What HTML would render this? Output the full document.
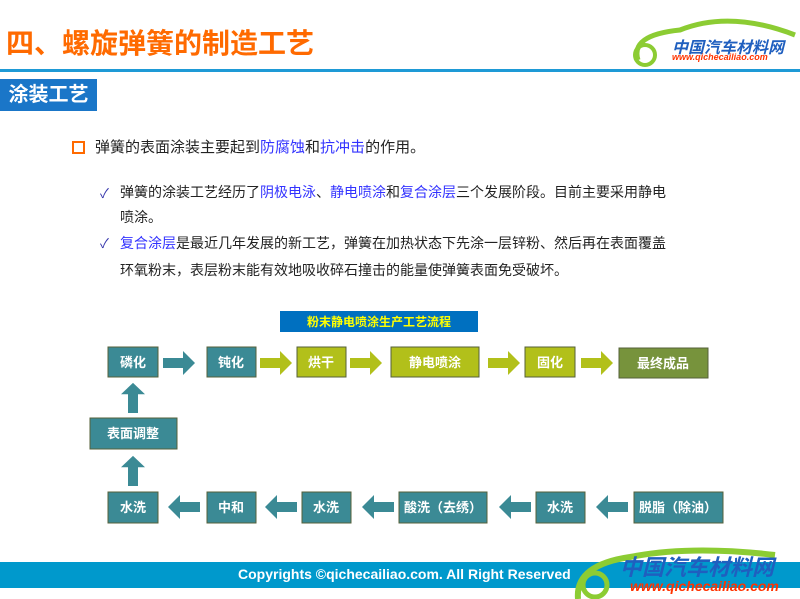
<!DOCTYPE html>
<html><head><meta charset="utf-8"><style>
body{margin:0;width:800px;height:599px;position:relative;background:#fff;font-family:"Liberation Sans","Noto Sans CJK SC",sans-serif;overflow:hidden}
.a{position:absolute;white-space:nowrap}
.b{color:#3333ff}
</style></head><body>
<div class="a" style="left:6px;top:22px;font-size:28px;font-weight:bold;color:#ff6a00;letter-spacing:0px">四、螺旋弹簧的制造工艺</div>
<svg class="a" style="left:620px;top:10px" width="180" height="60"><path d="M18 50 Q10 25 60 20 Q110 0 175 25" fill="none" stroke="#8ccc33" stroke-width="5"/><circle cx="25" cy="45" r="10" fill="none" stroke="#8ccc33" stroke-width="4"/></svg>
<div class="a" style="left:672px;top:34px;font-size:16px;font-weight:bold;color:#1f5fbf;font-style:italic">中国汽车材料网</div>
<div class="a" style="left:672px;top:52px;font-size:9px;font-weight:bold;color:#ff3300;font-style:italic">www.qichecailiao.com</div>
<div class="a" style="left:0;top:69px;width:800px;height:3px;background:#1e9ad6"></div>
<div class="a" style="left:0;top:79px;width:97px;height:32px;background:#1a76c8;color:#fff;font-size:20px;font-weight:bold;line-height:32px;text-align:center">涂装工艺</div>
<div class="a" style="left:72px;top:141px;width:9px;height:9px;border:2px solid #ff6a00"></div>
<div class="a" style="left:95px;top:136px;font-size:15px;color:#222">弹簧的表面涂装主要起到<span class="b">防腐蚀</span>和<span class="b">抗冲击</span>的作用。</div>
<div class="a" style="left:100px;top:183px;font-size:13px;color:#3333aa">✓</div>
<div class="a" style="left:120px;top:180px;font-size:14px;color:#222;line-height:25px">弹簧的涂装工艺经历了<span class="b">阴极电泳</span>、<span class="b">静电喷涂</span>和<span class="b">复合涂层</span>三个发展阶段。目前主要采用静电<br>喷涂。</div>
<div class="a" style="left:100px;top:233px;font-size:13px;color:#3333aa">✓</div>
<div class="a" style="left:120px;top:230px;font-size:14px;color:#222;line-height:27px"><span class="b">复合涂层</span>是最近几年发展的新工艺，弹簧在加热状态下先涂一层锌粉、然后再在表面覆盖<br>环氧粉末，表层粉末能有效地吸收碎石撞击的能量使弹簧表面免受破坏。</div>
<svg class="a" style="left:0;top:0" width="800" height="599" font-family="Liberation Sans,Noto Sans CJK SC,sans-serif" font-weight="bold" font-size="13">
<rect x="280" y="311" width="198" height="21" fill="#0070c0"/>
<text x="379" y="326" fill="#ffff00" text-anchor="middle" font-size="12">粉末静电喷涂生产工艺流程</text>
<g stroke="#55603a" stroke-width="1">
<rect x="108" y="347" width="50" height="30" fill="#3b8a95"/>
<rect x="207" y="347" width="49" height="30" fill="#3b8a95"/>
<rect x="297" y="347" width="49" height="30" fill="#b2c01a"/>
<rect x="391" y="347" width="88" height="30" fill="#b2c01a"/>
<rect x="525" y="347" width="50" height="30" fill="#b2c01a"/>
<rect x="619" y="348" width="89" height="30" fill="#77933c"/>
<rect x="90" y="418" width="87" height="31" fill="#3b8a95"/>
<rect x="108" y="492" width="50" height="31" fill="#3b8a95"/>
<rect x="207" y="492" width="49" height="31" fill="#3b8a95"/>
<rect x="302" y="492" width="49" height="31" fill="#3b8a95"/>
<rect x="399" y="492" width="88" height="31" fill="#3b8a95"/>
<rect x="536" y="492" width="49" height="31" fill="#3b8a95"/>
<rect x="634" y="492" width="89" height="31" fill="#3b8a95"/>
</g>
<g fill="#fff" text-anchor="middle">
<text x="133" y="367">磷化</text><text x="231" y="367">钝化</text><text x="321" y="367">烘干</text><text x="435" y="367">静电喷涂</text><text x="550" y="367">固化</text><text x="663" y="368">最终成品</text>
<text x="133" y="438">表面调整</text>
<text x="133" y="512">水洗</text><text x="231" y="512">中和</text><text x="326" y="512">水洗</text><text x="443" y="512">酸洗（去绣）</text><text x="560" y="512">水洗</text><text x="678" y="512">脱脂（除油）</text>
</g>
<defs>
<path id="ar" d="M0 -5 H20 V-12 L32 0 L20 12 V5 H0 Z"/>
</defs>
<use href="#ar" x="163" y="363" fill="#3b8a95"/>
<use href="#ar" x="260" y="363" fill="#b2c01a"/>
<use href="#ar" x="350" y="363" fill="#b2c01a"/>
<use href="#ar" x="488" y="363" fill="#b2c01a"/>
<use href="#ar" x="581" y="363" fill="#b2c01a"/>
<use href="#ar" transform="translate(200,507) rotate(180)" fill="#3b8a95"/>
<use href="#ar" transform="translate(297,507) rotate(180)" fill="#3b8a95"/>
<use href="#ar" transform="translate(394,507) rotate(180)" fill="#3b8a95"/>
<use href="#ar" transform="translate(531,507) rotate(180)" fill="#3b8a95"/>
<use href="#ar" transform="translate(628,507) rotate(180)" fill="#3b8a95"/>
<use href="#ar" transform="translate(133,413) rotate(-90) scale(0.94,1)" fill="#3b8a95"/>
<use href="#ar" transform="translate(133,486) rotate(-90) scale(0.94,1)" fill="#3b8a95"/>
</svg>
<div class="a" style="left:0;top:562px;width:800px;height:26px;background:#0099cc"></div>
<div class="a" style="left:238px;top:566px;font-size:14px;font-weight:bold;color:#fff">Copyrights ©qichecailiao.com. All Right Reserved</div>
<svg class="a" style="left:570px;top:545px" width="230" height="54"><path d="M8 54 Q5 20 60 12 Q120 0 205 10" fill="none" stroke="#8ccc33" stroke-width="6"/><circle cx="25" cy="40" r="12" fill="none" stroke="#8ccc33" stroke-width="5"/></svg>
<div class="a" style="left:620px;top:550px;font-size:22px;font-weight:bold;color:#1f5fbf;font-style:italic">中国汽车材料网</div>
<div class="a" style="left:630px;top:578px;font-size:14px;font-weight:bold;color:#ff3300;font-style:italic">www.qichecailiao.com</div>
</body></html>
